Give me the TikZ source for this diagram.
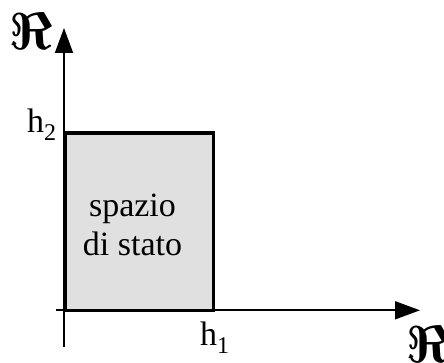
\documentclass[tikz,border=0pt]{standalone}
\usepackage{fontspec}
\setmainfont{Liberation Serif}
\usepackage{graphicx}
\usetikzlibrary{arrows.meta}
\definecolor{boxgray}{RGB}{224,224,224}
\newcommand{\subdig}[1]{\raisebox{-8pt}{\fontsize{24}{24}\selectfont #1}}
\newcommand{\bigRe}{\scalebox{5.2}{\boldmath$\Re$}}
\begin{document}
\begin{tikzpicture}[x=1pt,y=-1pt,
  axis/.style={line width=1.7pt},
  tip/.style={-{Triangle[length=25pt,width=18pt]}},
  lbl/.style={inner sep=0pt, font=\fontsize{34}{38}\selectfont},
  fr/.style={inner sep=0pt}]
\useasboundingbox (0,0) rectangle (444,363);
\node[draw, line width=3.5pt, fill=boxgray, minimum width=147.8pt, minimum height=177.3pt,
  inner sep=0pt, outer sep=0pt, anchor=south west] (box) at (65.5,310.3) {};
\coordinate (ybot) at (64,347);
\coordinate (ytop) at (64,28);
\coordinate (xl) at (56,310.3);
\coordinate (xr) at (420,310.3);
\draw[axis,tip] (ybot) -- (ytop);
\draw[axis,tip] (xl) -- (xr);
\node[lbl, anchor=base] (t1) at (132.5,217) {spazio};
\node[lbl, anchor=base] (t2) at (132.5,255) {di stato};
\node[lbl, anchor=base west] (h2) at (27,133) {h\subdig{2}};
\node[lbl, anchor=base west] (h1) at (200,345) {h\subdig{1}};
\node[fr] (R1) at (31,31) {\bigRe};
\node[fr] (R2) at (428,344) {\bigRe};
\end{tikzpicture}
\end{document}
